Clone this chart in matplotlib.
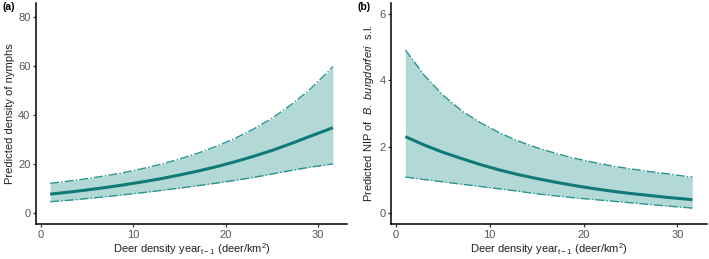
import matplotlib
matplotlib.use("Agg")
import matplotlib.pyplot as plt

plt.rcParams['font.family'] = ['Liberation Sans', 'DejaVu Sans']
plt.rcParams['mathtext.fontset'] = 'custom'
plt.rcParams['mathtext.rm'] = 'Liberation Sans'
plt.rcParams['mathtext.it'] = 'Liberation Sans:italic'

# deer density (x) shared by both panels
deer = [1, 3, 5, 7, 9, 11, 13, 15, 17, 19, 21, 23, 25, 27, 29, 31, 31.6]

# panel a - nymph density
nymph_mean = [7.8, 8.6, 9.5, 10.5, 11.6, 12.8, 14.1, 15.6, 17.2, 19.0, 21.0, 23.2, 25.6, 28.3, 31.2, 34.0, 34.9]
nymph_upper = [12.2, 13.1, 14.1, 15.3, 16.6, 18.2, 20.0, 22.1, 24.5, 27.3, 30.5, 34.3, 38.7, 44.0, 50.1, 57.4, 59.8]
nymph_lower = [4.7, 5.3, 6.0, 6.75, 7.55, 8.4, 9.3, 10.25, 11.25, 12.3, 13.4, 14.6, 16.0, 17.4, 18.7, 19.8, 20.1]

# panel b - NIP of B. burgdorferi s.l.
nip_mean = [2.30, 2.05, 1.83, 1.64, 1.46, 1.30, 1.16, 1.04, 0.93, 0.83, 0.74, 0.66, 0.59, 0.53, 0.47, 0.42, 0.405]
nip_upper = [4.91, 4.15, 3.55, 3.08, 2.72, 2.42, 2.17, 1.97, 1.80, 1.65, 1.53, 1.42, 1.33, 1.25, 1.18, 1.10, 1.085]
nip_lower = [1.085, 1.01, 0.94, 0.87, 0.80, 0.73, 0.66, 0.58, 0.52, 0.46, 0.41, 0.36, 0.31, 0.26, 0.21, 0.165, 0.15]

fill_col = '#b3d9d7'
line_col = '#107a78'
ci_col = '#2a9491'

fig = plt.figure(figsize=(7.09, 2.59), dpi=100)
ax1 = fig.add_axes([0.0508, 0.135, 0.4386, 0.853])
ax2 = fig.add_axes([0.5515, 0.135, 0.4453, 0.853])

xlab = r'Deer density year$_{\mathrm{t-1}}$ (deer/km$^{2}$)'

def draw(ax, mean, upper, lower, ylim, yticks, ylabel):
    ax.fill_between(deer, lower, upper, color=fill_col, lw=0)
    ax.plot(deer, upper, color=ci_col, lw=1.0, ls='-.')
    ax.plot(deer, lower, color=ci_col, lw=1.0, ls='-.')
    ax.plot(deer, mean, color=line_col, lw=2.2, solid_capstyle='butt')
    ax.set_xlim(-0.53, 33.13)
    ax.set_ylim(*ylim)
    ax.set_xticks([0, 10, 20, 30])
    ax.set_yticks(yticks)
    for s in ['top', 'right']:
        ax.spines[s].set_visible(False)
    for s in ['left', 'bottom']:
        ax.spines[s].set_linewidth(1.1)
    ax.tick_params(colors='#333333', labelcolor='#555555', labelsize=8, length=2.5, width=0.9, pad=1.5)
    ax.set_xlabel(xlab, fontsize=8, labelpad=1.5, color='#222222')
    ax.set_ylabel(ylabel, fontsize=8, labelpad=2.5, color='#222222')

draw(ax1, nymph_mean, nymph_upper, nymph_lower, (-4.4, 85.7), [0, 20, 40, 60, 80],
     'Predicted density of nymphs')
draw(ax2, nip_mean, nip_upper, nip_lower, (-0.33, 6.32), [0, 2, 4, 6],
     r'Predicted NIP of  $\mathit{B.\ burgdorferi}$  s.l.')

fig.text(0.003, 0.972, '(a)', fontsize=7.5, fontweight='bold', va='center', ha='left')
fig.text(0.504, 0.972, '(b)', fontsize=7.5, fontweight='bold', va='center', ha='left')

fig.savefig('out.png', dpi=100)
